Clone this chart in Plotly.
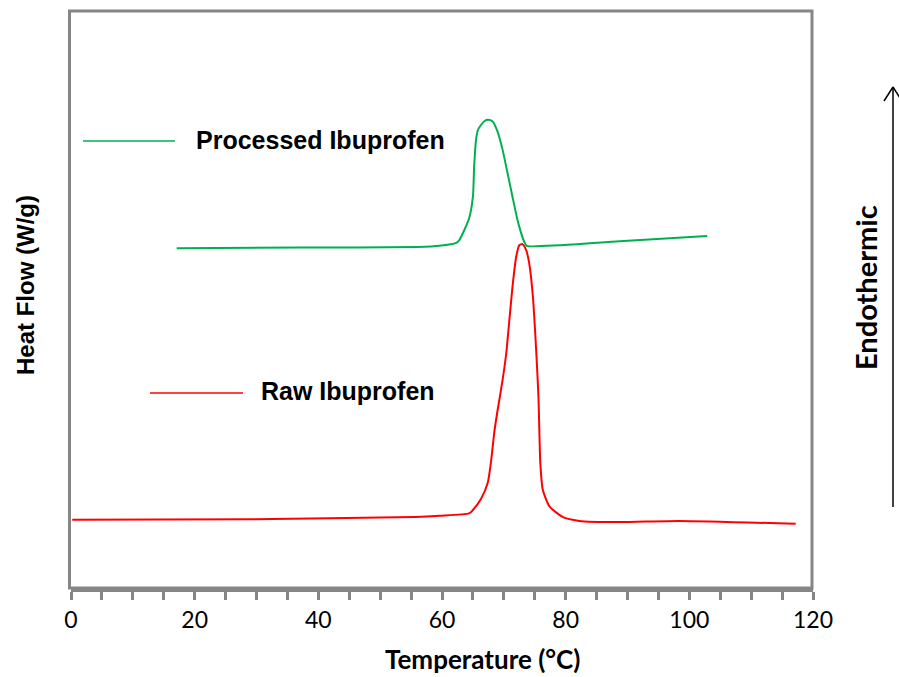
import plotly.graph_objects as go

# Processed Ibuprofen (green)
proc_T = [17.1, 37.0, 56.0, 59.6, 62.3, 62.8, 63.6, 64.4, 65.0, 65.2, 65.5, 65.8, 66.1, 66.9, 67.4,
          68.2, 69.0, 69.8, 70.6, 71.4, 72.2, 72.8, 73.3, 73.7, 79.0, 88.7, 102.9]
proc_HF = [58.8, 58.9, 59.0, 59.2, 59.7, 60.2, 61.9, 64.0, 67.7, 72.9, 77.5, 79.2, 79.8, 80.8, 81.0,
           80.7, 78.9, 75.8, 71.8, 67.7, 63.7, 61.4, 59.9, 59.2, 59.3, 60.0, 60.9]

# Raw Ibuprofen (red)
raw_T = [0.2, 28.9, 55.6, 59.6, 64.4, 65.0, 66.3, 67.4, 67.9, 68.5, 69.0, 69.8, 70.4, 70.9, 71.4,
         72.0, 72.5, 73.0, 73.6, 74.1, 74.7, 75.2, 75.6, 75.9, 76.3, 77.4, 79.5, 82.2, 88.7, 98.4, 117.2]
raw_HF = [11.8, 11.9, 12.3, 12.5, 12.9, 13.5, 15.4, 18.2, 21.6, 27.3, 30.8, 36.0, 40.7, 46.4, 52.1,
          57.3, 59.3, 59.5, 58.5, 56.2, 50.4, 41.7, 33.1, 21.6, 17.0, 14.1, 12.3, 11.6, 11.4, 11.6, 11.1]

series_names = ["Processed Ibuprofen", "Raw Ibuprofen"]
series_colors = ["#00b050", "#ff0000"]

x_range = [0, 120]
y_range = [0, 100]

CAL = "Lato, 'Open Sans', sans-serif"
ARIAL = "'Liberation Sans', Arial, sans-serif"
GRAY = "#868686"

fig = go.Figure()
fig.add_trace(go.Scatter(x=proc_T, y=proc_HF, mode="lines",
                         line=dict(color=series_colors[0], width=2, shape="spline", smoothing=0.6),
                         name=series_names[0], showlegend=False, hoverinfo="skip"))
fig.add_trace(go.Scatter(x=raw_T, y=raw_HF, mode="lines",
                         line=dict(color=series_colors[1], width=2, shape="spline", smoothing=0.6),
                         name=series_names[1], showlegend=False, hoverinfo="skip"))

# body margin is removed in the page, so figure fills the window exactly
W, H = 899, 677
# plot area in window pixels: x 71..813, y 10..588
L, R, T, B = 71, 899 - 813, 10, 677 - 588
pw, ph = W - L - R, H - T - B

def px(x):
    return (x - L) / pw

def py(y):
    return (H - B - y) / ph

shapes = []
# frame
shapes.append(dict(type="rect", xref="paper", yref="paper", x0=px(69.5), x1=px(812), y0=0, y1=py(11),
                   line=dict(color=GRAY, width=3), layer="below"))
# legend-like lines
shapes.append(dict(type="line", xref="paper", yref="paper", x0=px(83), x1=px(175), y0=py(141), y1=py(141),
                   line=dict(color=series_colors[0], width=1.5)))
shapes.append(dict(type="line", xref="paper", yref="paper", x0=px(150), x1=px(243), y0=py(393), y1=py(393),
                   line=dict(color=series_colors[1], width=1.5)))
# endothermic arrow
shapes.append(dict(type="line", xref="paper", yref="paper", x0=px(893), x1=px(893), y0=py(507), y1=py(87),
                   line=dict(color="black", width=1.5)))
shapes.append(dict(type="line", xref="paper", yref="paper", x0=px(884), x1=px(893), y0=py(101), y1=py(87),
                   line=dict(color="black", width=1.5)))
shapes.append(dict(type="line", xref="paper", yref="paper", x0=px(902), x1=px(893), y0=py(101), y1=py(87),
                   line=dict(color="black", width=1.5)))

annotations = [
    dict(text="<b>Processed Ibuprofen</b>", xref="paper", yref="paper", x=px(194), y=py(140), xanchor="left",
         yanchor="middle", showarrow=False, font=dict(family=ARIAL, size=25, color="black")),
    dict(text="<b>Raw Ibuprofen</b>", xref="paper", yref="paper", x=px(259), y=py(391), xanchor="left",
         yanchor="middle", showarrow=False, font=dict(family=ARIAL, size=25, color="black")),
    dict(text="<b>Endothermic</b>", xref="paper", yref="paper", x=px(865), y=py(287), xanchor="center",
         yanchor="middle", textangle=-90, showarrow=False, font=dict(family=CAL, size=29, color="black")),
    dict(text="<b>Heat Flow (W/g)</b>", xref="paper", yref="paper", x=px(25), y=py(285), xanchor="center",
         yanchor="middle", textangle=-90, showarrow=False, font=dict(family=ARIAL, size=24, color="black")),
    dict(text="<b>Temperature (°C)</b>", xref="paper", yref="paper", x=px(482), y=py(659), xanchor="center",
         yanchor="middle", showarrow=False, font=dict(family=CAL, size=26, color="black")),
]

fig.update_layout(
    width=W, height=H,
    margin=dict(l=L, r=R, t=T, b=B, autoexpand=False),
    paper_bgcolor="white", plot_bgcolor="white",
    font=dict(family=CAL, color="black"),
    shapes=shapes, annotations=annotations,
    hovermode=False,
    xaxis=dict(range=x_range, dtick=20, tick0=0, showgrid=False, zeroline=False,
               showline=True, linecolor=GRAY, linewidth=4,
               ticks="outside", ticklen=8, tickwidth=3, tickcolor=GRAY,
               minor=dict(dtick=5, ticks="outside", ticklen=8, tickwidth=3, tickcolor=GRAY, showgrid=False),
               tickfont=dict(family=CAL, size=23, color="black")),
    yaxis=dict(range=y_range, showgrid=False, zeroline=False, showticklabels=False, ticks="",
               showline=False),
)

fig.write_html("out.html", config={"displayModeBar": False},
               post_script="document.body.style.margin='0px';document.body.style.overflow='hidden';")
